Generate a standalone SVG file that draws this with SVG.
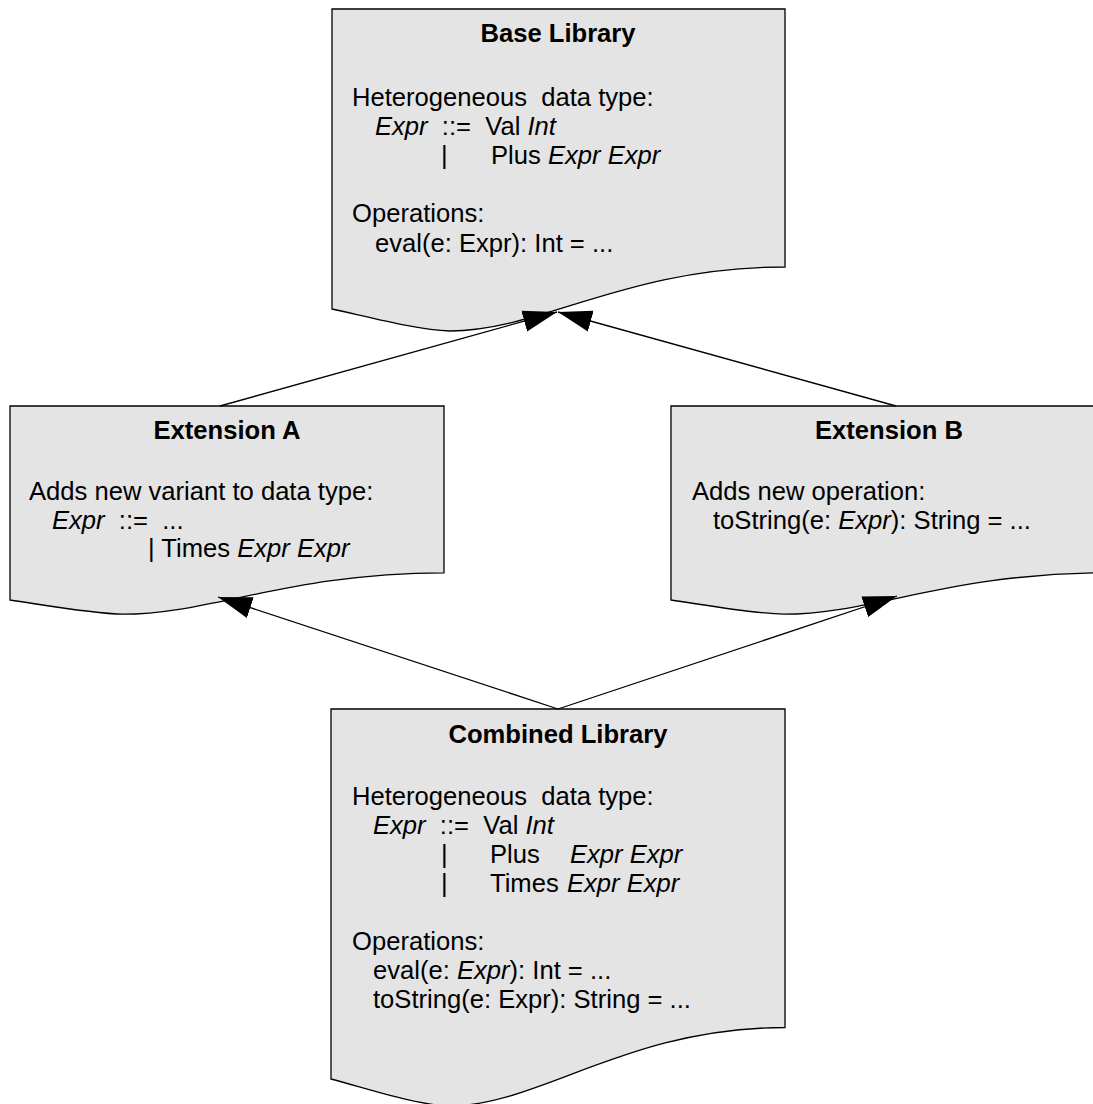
<svg xmlns="http://www.w3.org/2000/svg" width="1093" height="1104" viewBox="0 0 1093 1104">
<style>
.doc{fill:#e4e4e4;stroke:#000;stroke-width:1.3}
text{font-family:"Liberation Sans",Arial,sans-serif;font-size:25.6px;fill:#000}
.h{font-weight:bold;text-anchor:middle}
.i{font-style:italic}
.c{fill:none;stroke:#000;stroke-width:1.3}
</style>
<defs>
<marker id="ah" markerUnits="userSpaceOnUse" markerWidth="34" markerHeight="22" viewBox="0 0 33 21" refX="33" refY="10.5" orient="auto">
<path d="M0,0 L33,10.5 L0,21 Z" fill="#000"/>
</marker>
</defs>
<rect width="1093" height="1104" fill="#fff"/>
<g id="base">
<path class="doc" d="M332,9 H785 V267 C626,267 540.4,331 449.8,331 C418.1,330 372.8,318 332,309 Z"/>
<text class="h" x="558" y="42">Base Library</text>
<text x="352" y="105.5" xml:space="preserve">Heterogeneous  data type:</text>
<text x="375" y="134.5" xml:space="preserve"><tspan class="i">Expr</tspan>  ::=  Val <tspan class="i">Int</tspan></text>
<text y="164"><tspan x="441">|</tspan><tspan x="491">Plus </tspan><tspan x="548" class="i">Expr Expr</tspan></text>
<text x="352" y="222">Operations:</text>
<text x="375" y="252">eval(e: Expr): Int = ...</text>
</g>
<g id="extA">
<path class="doc" d="M10,406 H444 V572.8 C292.1,572.8 209.6,614.2 122.8,614.2 C92.5,613.6 49.1,605.8 10,600 Z"/>
<text class="h" x="227" y="439">Extension A</text>
<text x="29" y="500">Adds new variant to data type:</text>
<text x="52" y="528.5" xml:space="preserve"><tspan class="i">Expr</tspan>  ::=  ...</text>
<text x="148" y="557" xml:space="preserve">| Times <tspan class="i">Expr Expr</tspan></text>
</g>
<g id="extB">
<path class="doc" d="M671,406 H1105 V572.8 C953.1,572.8 870.6,614.2 783.8,614.2 C753.5,613.6 710.1,605.8 671,600 Z"/>
<text class="h" x="889" y="439">Extension B</text>
<text x="692" y="500">Adds new operation:</text>
<text x="713" y="528.5">toString(e: <tspan class="i">Expr</tspan>): String = ...</text>
</g>
<g id="combined">
<path class="doc" d="M331,709 H785 V1027.5 C626.1,1027.5 539.8,1106 449,1106 C417.3,1105 371.9,1090 331,1079 Z"/>
<text class="h" x="558" y="743">Combined Library</text>
<text x="352" y="805" xml:space="preserve">Heterogeneous  data type:</text>
<text x="373" y="833.5" xml:space="preserve"><tspan class="i">Expr</tspan>  ::=  Val <tspan class="i">Int</tspan></text>
<text y="862.5"><tspan x="441">|</tspan><tspan x="490">Plus</tspan><tspan x="570" class="i">Expr Expr</tspan></text>
<text y="891.5"><tspan x="441">|</tspan><tspan x="490">Times </tspan><tspan x="567" class="i">Expr Expr</tspan></text>
<text x="352" y="950">Operations:</text>
<text x="373" y="979">eval(e: <tspan class="i">Expr</tspan>): Int = ...</text>
<text x="373" y="1007.5">toString(e: Expr): String = ...</text>
</g>
<g id="connectors">
<line class="c" x1="220" y1="406" x2="557" y2="312" marker-end="url(#ah)"/>
<line class="c" x1="896" y1="406" x2="558" y2="312" marker-end="url(#ah)"/>
<line class="c" x1="558" y1="709" x2="218" y2="597" marker-end="url(#ah)"/>
<line class="c" x1="558" y1="709" x2="897" y2="596" marker-end="url(#ah)"/>
</g>
</svg>
